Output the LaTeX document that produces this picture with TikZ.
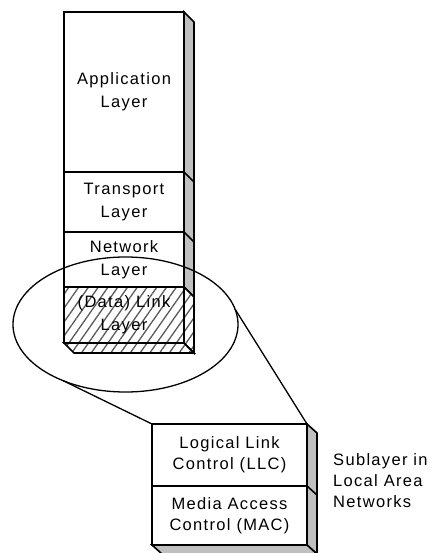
\documentclass[tikz,border=0pt]{standalone}
\usepackage{fontspec}
\setmainfont{Liberation Sans}
\newfontfamily\labfont[LetterSpace=8]{Liberation Sans}
\usetikzlibrary{shapes.geometric,patterns.meta}
\definecolor{facegray}{HTML}{C0C0C0}
\begin{document}
\begin{tikzpicture}[x=1pt,y=-1pt,
  layerbox/.style={draw, line width=1.6pt, minimum width=120pt, inner sep=0pt, outer sep=0pt, align=center,
    font=\labfont\fontsize{16.5}{23}\selectfont},
  subbox/.style={draw, line width=1.6pt, minimum width=155pt, inner sep=0pt, outer sep=0pt, align=center,
    font=\labfont\fontsize{16.5}{21}\selectfont},
  sideface/.style={draw, line width=1.6pt, line join=miter, fill=facegray},
  hatchface/.style={draw, line width=1.6pt, line join=miter, pattern={Lines[angle=55,distance=8pt,line width=1.3pt]}, pattern color=black!65},
  hatch/.style={pattern={Lines[angle=55,distance=8pt,line width=1.3pt]}, pattern color=black!65},
  conn/.style={line width=1.3pt},
  ring/.style={draw, ellipse, line width=1.3pt, inner sep=0pt, outer sep=0pt, minimum width=225pt, minimum height=135pt},
  note/.style={inner sep=0pt, align=left, font=\labfont\fontsize{16.5}{21}\selectfont}]
\fill[white] (0,0) rectangle (442,553);
\useasboundingbox (0,0) rectangle (442,553);

% OSI stack
\node[layerbox, minimum height=160pt] (app) at (124,92) {Application\\Layer};
\node[layerbox, minimum height=60pt] (tr) at (124,202) {Transport\\Layer};
\node[layerbox, minimum height=55pt] (net) at (124,259.5) {Network\\Layer};
\node[layerbox, minimum height=56pt, hatch] (dl) at (124,315) {(Data) Link\\Layer};

% side and bottom faces of stack
\draw[sideface] (app.north east) -- ([shift={(10,10)}]app.north east) -- ([shift={(10,10)}]net.south east) -- (net.south east) -- cycle;
\fill[white] (dl.north east) -- ([shift={(10,10)}]dl.north east) -- ([shift={(10,10)}]dl.south east) -- (dl.south east) -- cycle;
\draw[hatchface] (dl.north east) -- ([shift={(10,10)}]dl.north east) -- ([shift={(10,10)}]dl.south east) -- (dl.south east) -- cycle;
\draw[hatchface] (dl.south west) -- ([shift={(10,10)}]dl.south west) -- ([shift={(10,10)}]dl.south east) -- (dl.south east) -- cycle;
\draw[line width=1.6pt] (app.south east) -- ++(10,10);
\draw[line width=1.6pt] (tr.south east) -- ++(10,10);

% magnifier ellipse
\node[ring] (zoom) at (125.5,324.5) {};

% sublayer box
\node[subbox, minimum height=62pt] (llc) at (229.5,455) {Logical Link\\Control (LLC)};
\node[subbox, minimum height=59pt] (mac) at (229.5,515.5) {Media Access\\Control (MAC)};
\draw[sideface] (llc.north east) -- ([shift={(10,9)}]llc.north east) -- ([shift={(10,9)}]mac.south east) -- (mac.south east) -- cycle;
\draw[sideface] (mac.south west) -- ([shift={(10,9)}]mac.south west) -- ([shift={(10,9)}]mac.south east) -- (mac.south east) -- cycle;
\draw[line width=1.6pt] (llc.south east) -- ++(10,9);

% connectors
\draw[conn] (zoom.222.6) -- (llc.north west);
\draw[conn] (zoom.8.6) -- (llc.north east);

\node[note, anchor=west] (sub) at (333,480.5) {Sublayer in\\Local Area\\Networks};
\end{tikzpicture}
\end{document}
